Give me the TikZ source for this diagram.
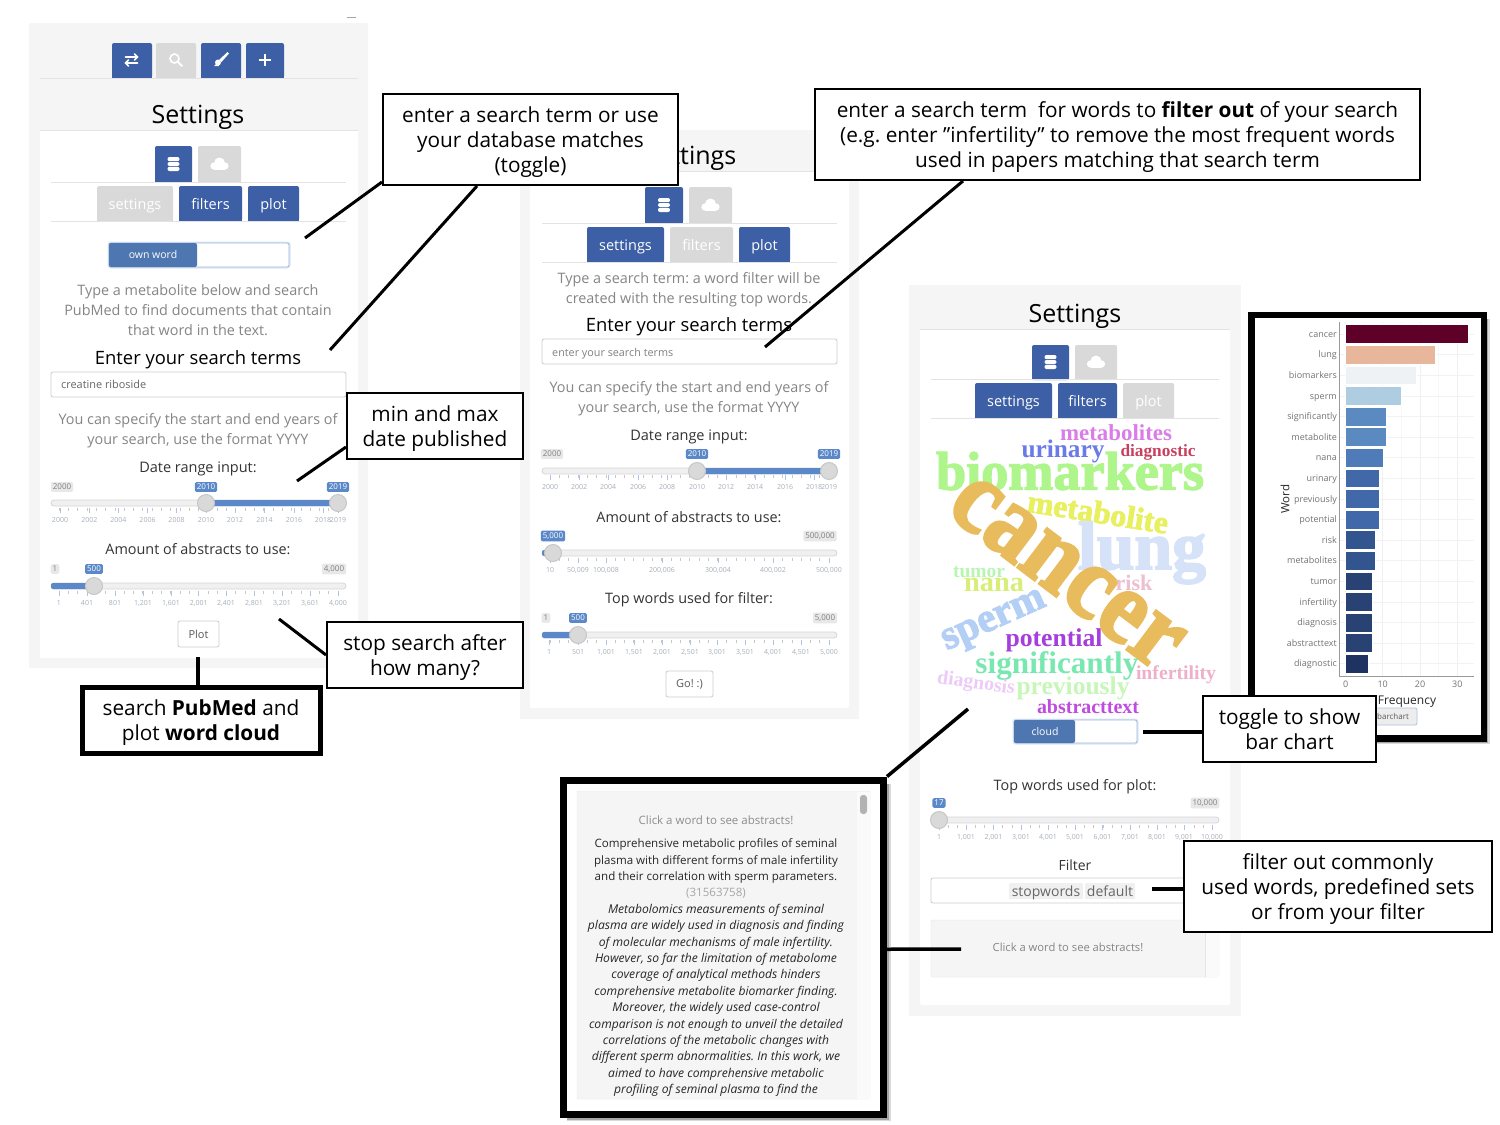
\documentclass[tikz,border=0pt]{standalone}
\usepackage{fontspec}
\setmainfont{Open Sans}
\newfontfamily\wcfont{Liberation Serif}
\newfontfamily\wcheavy[BoldFeatures={FakeBold=2.5}]{Liberation Serif}
\definecolor{tabblue}{HTML}{3C5FA5}
\definecolor{tabgrey}{HTML}{D9D9D9}
\definecolor{panelbg}{HTML}{F5F5F5}
\definecolor{ruleg}{HTML}{E3E3E3}
\definecolor{greytxt}{HTML}{858585}
\definecolor{darktxt}{HTML}{333333}
\definecolor{slideblue}{HTML}{5B88C8}
\definecolor{ticklab}{HTML}{A8AEB8}
\definecolor{toggleblue}{HTML}{4E76B0}
\definecolor{wa}{HTML}{DA7DE8}\definecolor{wb}{HTML}{6A7BE8}\definecolor{wc}{HTML}{C8405F}
\definecolor{wd}{HTML}{AEF58C}\definecolor{we}{HTML}{E8F060}\definecolor{wf}{HTML}{D6E2F7}
\definecolor{wg}{HTML}{E8BC5C}\definecolor{wh}{HTML}{B8F5B0}\definecolor{wi}{HTML}{D8EE78}
\definecolor{wj}{HTML}{EDBFD0}\definecolor{wk}{HTML}{B4CFF6}\definecolor{wl}{HTML}{A53EDC}
\definecolor{wm}{HTML}{78E8B0}\definecolor{wn}{HTML}{EFAFC9}\definecolor{wo}{HTML}{ECCBF7}
\definecolor{wp}{HTML}{C6F7B8}\definecolor{wq}{HTML}{C04BE0}
\tikzset{
  callout/.style={draw=black,line width=2pt,fill=white,align=center,inner sep=0pt,text=black,font=\fontsize{20.8}{25}\selectfont},
  thickcall/.style={draw=black,line width=5pt,fill=white,align=center,inner sep=0pt,text=black,font=\fontsize{20.8}{25}\selectfont},
  lead/.style={draw=black,line width=3pt},
  uitxt/.style={anchor=base,inner sep=0pt,text=greytxt,yshift=-5pt},
  hdtxt/.style={anchor=base,inner sep=0pt,text=black,yshift=-5.3pt},
  tinylab/.style={anchor=base,inner sep=0pt,text=ticklab},
  abst/.style={anchor=base,inner sep=0pt,text=black!85},
  handle/.style={circle,fill=tabgrey,draw=black!22,line width=1pt,minimum size=17pt,inner sep=0pt},
  field/.style={draw=black!20,line width=0.8pt,fill=white,rounded corners=2pt},
  ico/.style={draw=white,line width=1.6pt,line cap=round}
}
\newcommand{\nudgeline}{\rule{0pt}{20pt}}
\newcommand{\fs}[1]{\fontsize{#1}{#1}\selectfont}
\newcommand{\tabbtn}[6]{%
  \fill[#5,rounded corners=2pt] (#1,#4) -- (#1,#3) -- (#2,#3) -- (#2,#4) -- cycle;
  \fill[#5] (#1,#4-3) rectangle (#2,#4);
  \node[anchor=base,inner sep=0pt,text=white] at ({(#1+#2)/2},{(#3+#4)/2+5.5}) {\fs{14.5}#6};}
\newcommand{\bublab}[3]{\node[fill=slideblue,text=white,rounded corners=1.5pt,inner xsep=2pt,inner ysep=2pt] at (#1,#2) {\fs{8}#3};}
\newcommand{\bubgrey}[3]{\node[fill=black!9,text=black!50,rounded corners=1.5pt,inner xsep=2pt,inner ysep=2pt] at (#1,#2) {\fs{8}#3};}
\newcommand{\track}[5]{%x1 x2 y fillfrom fillto
  \fill[black!6,draw=black!16,line width=0.8pt,rounded corners=3pt] (#1,#3-3) rectangle (#2,#3+3);
  \fill[slideblue,rounded corners=2pt] (#4,#3-3) rectangle (#5,#3+3);}
\newcommand{\minorticks}[3]{%start end y
  \foreach \i in {0,...,30}{\draw[black!22,line width=0.5pt] ({#1+\i*(#2-#1)/30},#3+5) -- ({#1+\i*(#2-#1)/30},#3+8);}}
\newcommand{\majorticks}[2]{%y list
  \foreach \px/\lab in {#2}{
    \draw[slideblue!50,line width=0.8pt] (\px,#1+5) -- (\px,#1+10);
    \node[tinylab] at (\px,#1+19.5) {\fs{7}\lab};}}
\newcommand{\iconexch}[2]{%
  \draw[ico] (#1-6,#2-3) -- (#1+5,#2-3); \draw[ico] (#1+3,#2-6) -- (#1+6,#2-3) -- (#1+3,#2);
  \draw[ico] (#1+6,#2+3) -- (#1-5,#2+3); \draw[ico] (#1-3,#2) -- (#1-6,#2+3) -- (#1-3,#2+6);}
\newcommand{\iconsearch}[2]{%
  \draw[ico] (#1-1.5,#2-1.5) circle (4.5); \draw[ico,line width=2pt] (#1+2,#2+2) -- (#1+6,#2+6);}
\newcommand{\iconbrush}[2]{%
  \fill[white] (#1+6.5,#2-8) -- (#1+8,#2-6.5) -- (#1+0.5,#2+2) -- (#1-2,#2) -- cycle;
  \fill[white] (#1-3,#2+2.5) circle (3);
  \fill[white] (#1-7,#2+6) -- (#1-2,#2+6) -- (#1-3,#2+2) -- cycle;}
\newcommand{\iconplus}[2]{\draw[white,line width=2.6pt] (#1-6,#2) -- (#1+6,#2) (#1,#2-6) -- (#1,#2+6);}
\newcommand{\icondb}[2]{%
  \fill[white,rounded corners=2pt] (#1-6,#2-7) rectangle (#1+6,#2-2.8);
  \fill[white,rounded corners=2pt] (#1-6,#2-2) rectangle (#1+6,#2+2);
  \fill[white,rounded corners=2pt] (#1-6,#2+2.8) rectangle (#1+6,#2+7);}
\newcommand{\iconcloud}[2]{%
  \fill[white] (#1-5.5,#2+2) circle (3.6);
  \fill[white] (#1,#2-1) circle (5.5);
  \fill[white] (#1+5.5,#2+2) circle (3.6);
  \fill[white] (#1-5.5,#2+1) rectangle (#1+5.5,#2+5.6);}
\newcommand{\wcw}[6]{\node[inner sep=0pt,rotate=#3,text=#5] at (#1,#2) {\resizebox{#4pt}{!}{\wcfont\bfseries #6}};}
\newcommand{\wch}[6]{\node[inner sep=0pt,rotate=#3,text=#5] at (#1,#2) {\resizebox{#4pt}{!}{\wcheavy\bfseries #6}};}
\newcommand{\barr}[3]{%index value colour
  \fill[#3,draw=white,line width=0.5pt] (1345.7,{334+#1*20.6-9.4}) rectangle ({1345.7+#2*3.72},{334+#1*20.6+9.4});}
\newcommand{\barlab}[2]{\node[anchor=base east,inner sep=0pt,text=black!55] at (1337,{334+#1*20.6+3.2}) {\fs{9}#2};}
\begin{document}
\frenchspacing
\begin{tikzpicture}[x=1pt,y=-1pt]
\useasboundingbox (0,0) rectangle (1500,1125);
\fill[white] (0,0) rectangle (1500,1125);
\draw[black!35,line width=0.6pt] (347,17) -- (356,17);
%% ---------- panel 1
\fill[panelbg,rounded corners=2pt] (29,23) rectangle (368,668);
\fill[white] (40,130) rectangle (358,658);
\tabbtn{112}{152}{43}{78}{tabblue}{}
\tabbtn{156}{196}{43}{78}{tabgrey}{}
\tabbtn{201}{241}{43}{78}{tabblue}{}
\tabbtn{246}{284}{43}{78}{tabblue}{}
\iconexch{131.5}{60}\iconsearch{176}{60}\iconbrush{221}{60}\iconplus{265}{60}
\draw[ruleg] (40,78) -- (358,78);
\node[hdtxt,yshift=-3.7pt] at (198,114) {\fs{25}Settings};
\draw[ruleg] (40,130) -- (358,130);
\tabbtn{155}{192}{146}{182}{tabblue}{}
\tabbtn{198}{241}{146}{182}{tabgrey}{}
\icondb{173.5}{164}\iconcloud{219.5}{164}
\draw[ruleg] (51,182) -- (346,182);
\tabbtn{97}{173}{186}{221}{tabgrey}{settings}
\tabbtn{179}{242}{186}{221}{tabblue}{filters}
\tabbtn{248}{299}{186}{221}{tabblue}{plot}
\draw[ruleg] (51,221) -- (346,221);
\fill[slideblue!20,rounded corners=3pt] (107.5,241.5) rectangle (290.5,268.5);
\fill[white,rounded corners=2pt,draw=slideblue!60,line width=0.8pt] (109,243) rectangle (289,267);
\fill[toggleblue,rounded corners=2pt] (109,243) rectangle (197,267);
\node[inner sep=0pt,text=white] at (153,255) {\fs{10.5}own word};
\node[uitxt] at (198,290) {\fs{14.4}Type a metabolite below and search};
\node[uitxt] at (198,310) {\fs{14.4}PubMed to find documents that contain};
\node[uitxt] at (198,330) {\fs{14.4}that word in the text.};
\node[hdtxt,yshift=-1pt] at (198,358) {\fs{18.4}Enter your search terms};
\draw[field] (51,372) rectangle (346,397);
\node[anchor=base west,inner sep=0pt,text=black!60] at (61,388) {\fs{10.9}creatine riboside};
\node[uitxt] at (198,419) {\fs{14.4}You can specify the start and end years of};
\node[uitxt] at (198,439) {\fs{14.4}your search, use the format YYYY};
\node[hdtxt,text=darktxt] at (198,467) {\fs{14.5}Date range input:};
\track{51}{346}{503}{206}{338}
\minorticks{59}{338}{503}
\majorticks{503}{60/2000,89.3/2002,118.3/2004,147.5/2006,176.5/2008,206/2010,235/2012,264.5/2014,294/2016,323/2018,338/2019}
\bubgrey{62}{487}{2000}\bublab{206}{487}{2010}\bublab{338}{487}{2019}
\node[handle] at (206,503) {};\node[handle] at (338,503) {};
\node[hdtxt,text=darktxt] at (198,549) {\fs{14.4}Amount of abstracts to use:};
\track{51}{346}{586}{51}{94}
\minorticks{59}{338}{586}
\majorticks{586}{59/1,87/401,115/801,143/{1,201},171/{1,601},198.7/{2,001},226/{2,401},254/{2,801},282/{3,201},310/{3,601},338/{4,000}}
\bubgrey{55}{569}{1}\bublab{94}{569}{500}\bubgrey{334}{569}{4,000}
\node[handle] at (94,586) {};
\draw[field] (178,621) rectangle (219,647);
\node[inner sep=0pt,text=black!65] at (198.5,634) {\fs{11}Plot};
%% ---------- panel 2
\fill[panelbg] (520,130) rectangle (859,719);
\fill[white,rounded corners=2pt] (530,171) rectangle (849,708);
\draw[ruleg] (530,171) -- (849,171);
\node[hdtxt,yshift=-3.7pt] at (690,155) {\fs{25}Settings};
\tabbtn{645}{683}{187}{223}{tabblue}{}
\tabbtn{689}{732}{187}{223}{tabgrey}{}
\icondb{664}{205}\iconcloud{710.5}{205}
\draw[ruleg] (542,223) -- (837,223);
\tabbtn{587}{664}{227}{262}{tabblue}{settings}
\tabbtn{670}{733}{227}{262}{tabgrey}{filters}
\tabbtn{739}{790}{227}{262}{tabblue}{plot}
\draw[ruleg] (542,262) -- (837,262);
\node[uitxt] at (689,278) {\fs{14.4}Type a search term: a word filter will be};
\node[uitxt] at (689,298) {\fs{14.4}created with the resulting top words.};
\node[hdtxt,yshift=-1pt] at (689,325) {\fs{18.4}Enter your search terms};
\draw[field] (542,339) rectangle (837,364);
\node[anchor=base west,inner sep=0pt,text=black!50] at (552,356) {\fs{10.8}enter your search terms};
\node[uitxt] at (689,387) {\fs{14.4}You can specify the start and end years of};
\node[uitxt] at (689,407) {\fs{14.4}your search, use the format YYYY};
\node[hdtxt,text=darktxt] at (689,435) {\fs{14.5}Date range input:};
\track{542}{837}{471}{697}{829}
\minorticks{550}{829}{470}
\majorticks{470}{550/2000,579/2002,608/2004,638/2006,667/2008,697/2010,726/2012,755/2014,785/2016,814/2018,829/2019}
\bubgrey{552}{454}{2000}\bublab{697}{454}{2010}\bublab{829}{454}{2019}
\node[handle] at (697,471) {};\node[handle] at (829,471) {};
\node[hdtxt,text=darktxt] at (689,517) {\fs{14.4}Amount of abstracts to use:};
\track{542}{837}{553}{542}{553}
\minorticks{550}{829}{553}
\majorticks{553}{550/10,578/{50,009},606/{100,008},662/{200,006},718/{300,004},773/{400,002},829/{500,000}}
\bublab{553}{536}{5,000}\bubgrey{820}{536}{500,000}
\node[handle] at (553,553) {};
\node[hdtxt,text=darktxt] at (689,598) {\fs{14.4}Top words used for filter:};
\track{542}{837}{635}{542}{578}
\minorticks{550}{829}{635}
\majorticks{635}{549/1,578/501,606/{1,001},634/{1,501},662/{2,001},690/{2,501},717/{3,001},745/{3,501},773/{4,001},801/{4,501},829/{5,000}}
\bubgrey{546}{618}{1}\bublab{578}{618}{500}\bubgrey{825}{618}{5,000}
\node[handle] at (578,635) {};
\draw[field] (666,671) rectangle (713,697);
\node[inner sep=0pt,text=black!65] at (689.5,684) {\fs{11}Go! :)};
%% ---------- panel 3
\fill[panelbg] (909,285) rectangle (1241,1016);
\fill[white,rounded corners=2pt] (920,329) rectangle (1230,1005);
\draw[ruleg] (920,329) -- (1230,329);
\node[hdtxt,yshift=-3.7pt] at (1075,313) {\fs{25}Settings};
\tabbtn{1032}{1069}{345}{380}{tabblue}{}
\tabbtn{1075}{1117}{345}{380}{tabgrey}{}
\icondb{1050.5}{362}\iconcloud{1096}{362}
\draw[ruleg] (931,379) -- (1219,379);
\tabbtn{975}{1052}{383}{418}{tabblue}{settings}
\tabbtn{1058}{1117}{383}{418}{tabblue}{filters}
\tabbtn{1123}{1174}{383}{418}{tabgrey}{plot}
\draw[ruleg] (931,418) -- (1219,418);
% word cloud
\wcw{1116}{433}{0}{112}{wa}{metabolites}
\wcw{1063}{451}{0}{83}{wb}{urinary}
\wcw{1158}{452}{0}{75}{wc}{diagnostic}
\wch{1070}{471}{0}{268}{wd}{biomarkers}
\wch{1098}{512}{-9}{142}{we}{metabolite}
\wch{1142}{553}{0}{128}{wf}{lung}
\node[inner sep=0pt,rotate=-37,text=wg] at (1066,573) {\scalebox{1}[1.12]{\resizebox{268pt}{!}{\wcheavy\bfseries cancer}}};
\wcw{979}{572}{0}{52}{wh}{tumor}
\wcw{994}{585}{0}{60}{wi}{nana}
\wcw{1134}{583}{0}{37}{wj}{risk}
\wch{995}{623}{24}{110}{wk}{sperm}
\wcw{1054}{640}{0}{97}{wl}{potential}
\wcw{1057}{666}{0}{163}{wm}{significantly}
\wcw{1176}{675}{0}{80}{wn}{infertility}
\wcw{976}{684}{-8}{78}{wo}{diagnosis}
\wcw{1073}{688}{0}{113}{wp}{previously}
\wcw{1088}{707}{0}{102}{wq}{abstracttext}
% toggle
\fill[slideblue!20,rounded corners=3pt] (1012.5,718.5) rectangle (1138.5,744.5);
\fill[white,rounded corners=2pt,draw=slideblue!60,line width=0.8pt] (1014,720) rectangle (1137,743);
\fill[toggleblue,rounded corners=2pt] (1014,720) rectangle (1075,743);
\node[inner sep=0pt,text=white] at (1045,732) {\fs{10.5}cloud};
\node[hdtxt,text=darktxt] at (1075,785) {\fs{14.4}Top words used for plot:};
\track{932}{1219}{820}{932}{939}
\minorticks{939}{1212}{820}
\majorticks{820}{939/1,966/{1,001},993.6/{2,001},1021/{3,001},1048/{4,001},1075/{5,001},1102.6/{6,001},1130/{7,001},1157/{8,001},1184/{9,001},1212/{10,000}}
\bublab{939}{803}{17}\bubgrey{1205}{803}{10,000}
\node[handle] at (939,820) {};
\node[hdtxt,text=darktxt] at (1075,865) {\fs{14}Filter};
\draw[field] (931,878) rectangle (1219,903);
\fill[black!6,rounded corners=1pt] (1009,883) rectangle (1083,899);
\fill[black!6,rounded corners=1pt] (1085,883) rectangle (1135,899);
\node[anchor=base,inner sep=0pt,text=black!60] at (1046,896) {\fs{14}stopwords};
\node[anchor=base,inner sep=0pt,text=black!60] at (1110,896) {\fs{14}default};
\fill[panelbg,draw=black!10,rounded corners=2pt] (931,920) rectangle (1219,977);
\fill[black!2] (1205,920.5) rectangle (1218.5,976.5);
\draw[black!10] (1205,920) -- (1205,977);
\node[anchor=base,inner sep=0pt,text=greytxt] at (1068,951.5) {\fs{11.2}Click a word to see abstracts!};
%% ---------- free ends of the leaders
\coordinate (f1) at (305,238);
\coordinate (f2) at (330,350);
\coordinate (f3) at (765,347);
\coordinate (f4) at (297,481);
\coordinate (f5) at (279,619);
\coordinate (f6) at (198,657);
\coordinate (f7) at (968,709);
\coordinate (f8) at (961,949);
\coordinate (f9) at (1143,732);
\coordinate (f10) at (1152,889);
%% ---------- bar chart frame
\fill[black!15] (1255,319) rectangle (1489.5,744);
\fill[black!35] (1255,319) rectangle (1488,742.5);
\node[draw=black,line width=6.5pt,fill=white,minimum width=232.5pt,minimum height=423.5pt,inner sep=0pt] (barframe) at (1367.75,526.75) {};
\foreach \gx in {1345.7,1382.7,1420,1457.3}{\draw[black!6,line width=0.8pt] (\gx,322) -- (\gx,676);}
\foreach \gx in {1364.2,1401.3,1438.6}{\draw[black!3,line width=0.5pt] (\gx,322) -- (\gx,676);}
\foreach \gy in {0,...,16}{\draw[black!5,line width=0.5pt] (1339,{334+\gy*20.6}) -- (1474,{334+\gy*20.6});}
\definecolor{b0}{HTML}{5E0027}\definecolor{b1}{HTML}{E8B79B}\definecolor{b2}{HTML}{EEF2F5}\definecolor{b3}{HTML}{AECDE1}
\definecolor{b4}{HTML}{5B8AC0}\definecolor{b5}{HTML}{4F7CB8}\definecolor{b6}{HTML}{4168A8}\definecolor{b7}{HTML}{33558F}\definecolor{b8}{HTML}{284274}\definecolor{b9}{HTML}{1F3363}
\barr{0}{33}{b0}\barr{1}{24}{b1}\barr{2}{19}{b2}\barr{3}{15}{b3}\barr{4}{11}{b4}\barr{5}{11}{b4}\barr{6}{10}{b5}\barr{7}{9}{b6}\barr{8}{9}{b6}\barr{9}{9}{b6}\barr{10}{8}{b7}\barr{11}{8}{b7}\barr{12}{7}{b8}\barr{13}{7}{b8}\barr{14}{7}{b8}\barr{15}{7}{b8}\barr{16}{6}{b9}
\barlab{0}{cancer}\barlab{1}{lung}\barlab{2}{biomarkers}\barlab{3}{sperm}\barlab{4}{significantly}\barlab{5}{metabolite}\barlab{6}{nana}\barlab{7}{urinary}\barlab{8}{previously}\barlab{9}{potential}\barlab{10}{risk}\barlab{11}{metabolites}\barlab{12}{tumor}\barlab{13}{infertility}\barlab{14}{diagnosis}\barlab{15}{abstracttext}\barlab{16}{diagnostic}
\draw[black!40,line width=0.8pt] (1339,322) -- (1339,676) -- (1474,676);
\foreach \gx/\gl in {1345.7/0,1382.7/10,1420/20,1457.3/30}{\node[inner sep=0pt,text=black!55] at (\gx,684) {\fs{9}\gl};}
\node[inner sep=0pt,rotate=90,text=black!85] at (1285,499) {\fs{11.5}Word};
\node[anchor=base,inner sep=0pt,text=black!85] at (1407,704) {\fs{12}Frequency};
\fill[black!7,draw=slideblue!50,line width=0.8pt,rounded corners=2pt] (1370,708) rectangle (1417,725);
\node[inner sep=0pt,text=black!65] at (1393,716.5) {\fs{8}barchart};
%% ---------- abstract frame
\fill[black!15] (567,784) rectangle (890.5,1121);
\fill[black!35] (567,784) rectangle (889,1119.5);
\node[draw=black,line width=7pt,fill=white,minimum width=320pt,minimum height=334.5pt,inner sep=0pt] (absframe) at (723.5,947.25) {};
\fill[panelbg,draw=black!8,rounded corners=1pt] (577,791) rectangle (870,1099);
\fill[black!2] (857,791.5) rectangle (869.5,1098.5);
\fill[black!30,rounded corners=3pt] (860,795) rectangle (867,814);
\node[abst,text=black!45] at (716,824) {\fs{11.5}Click a word to see abstracts!};
\node[abst] at (716,847.7) {\fs{11.55}Comprehensive metabolic profiles of seminal};
\node[abst] at (716,864.1) {\fs{11.55}plasma with different forms of male infertility};
\node[abst] at (716,880.5) {\fs{11.55}and their correlation with sperm parameters.};
\node[abst,text=black!35] at (716,896.9) {\fs{11.55}(31563758)};
\foreach \ln/\yy in {Metabolomics measurements of seminal/913.3,plasma are widely used in diagnosis and finding/929.7,of molecular mechanisms of male infertility./946.1,{However, so far the limitation of metabolome}/962.5,coverage of analytical methods hinders/978.9,comprehensive metabolite biomarker finding./995.3,{Moreover, the widely used case-control}/1011.7,comparison is not enough to unveil the detailed/1028.1,correlations of the metabolic changes with/1044.5,{different sperm abnormalities. In this work, we}/1060.9,aimed to have comprehensive metabolic/1077.3,profiling of seminal plasma to find the/1093.7}{
  \node[abst] at (716,\yy) {\fs{12.1}\itshape\ln};}
%% ---------- callouts
\node[callout,minimum width=295pt,minimum height=91pt] (c1) at (530.5,139.5) {\nudgeline enter a search term or use\\your database matches\\(toggle)};
\node[callout,minimum width=605pt,minimum height=91pt] (c2) at (1117.5,134.5) {\nudgeline enter a search term\ \ for words to \textbf{filter out} of your search\\(e.g. enter ”infertility” to remove the most frequent words\\used in papers matching that search term};
\node[callout,minimum width=176pt,minimum height=66pt] (c3) at (435,426) {\nudgeline min and max\\date published};
\node[callout,minimum width=196pt,minimum height=66pt] (c4) at (425,655) {\nudgeline stop search after\\how many?};
\node[thickcall,minimum width=238pt,minimum height=66pt] (c5) at (201,720) {\nudgeline search \textbf{PubMed} and\\plot \textbf{word cloud}};
\node[callout,minimum width=173pt,minimum height=66pt] (c6) at (1289.5,729) {toggle to show\\bar chart};
\node[callout,minimum width=308pt,minimum height=91pt] (c7) at (1338,886.5) {\nudgeline filter out commonly\\used words, predefined sets\\or from your filter};
%% ---------- leaders
\draw[lead] ([yshift=4pt]c1.south west) -- (f1);
\draw[lead] ([xshift=95pt]c1.south west) -- (f2);
\draw[lead] ([xshift=149pt]c2.south west) -- (f3);
\draw[lead] ([yshift=13pt]c3.south west) -- (f4);
\draw[lead] (c4.west) -- (f5);
\draw[lead,line width=3.5pt] ([xshift=-3pt]c5.north) -- (f6);
\draw[lead,line width=3.5pt] (absframe.north east) -- (f7);
\draw[lead,line width=3.5pt] ([yshift=-2pt]absframe.east) -- (f8);
\draw[lead,line width=3.5pt] ([yshift=-3pt]c6.west) -- (f9);
\draw[lead,line width=3.5pt] ([yshift=-2.5pt]c7.west) -- (f10);
\end{tikzpicture}
\end{document}
